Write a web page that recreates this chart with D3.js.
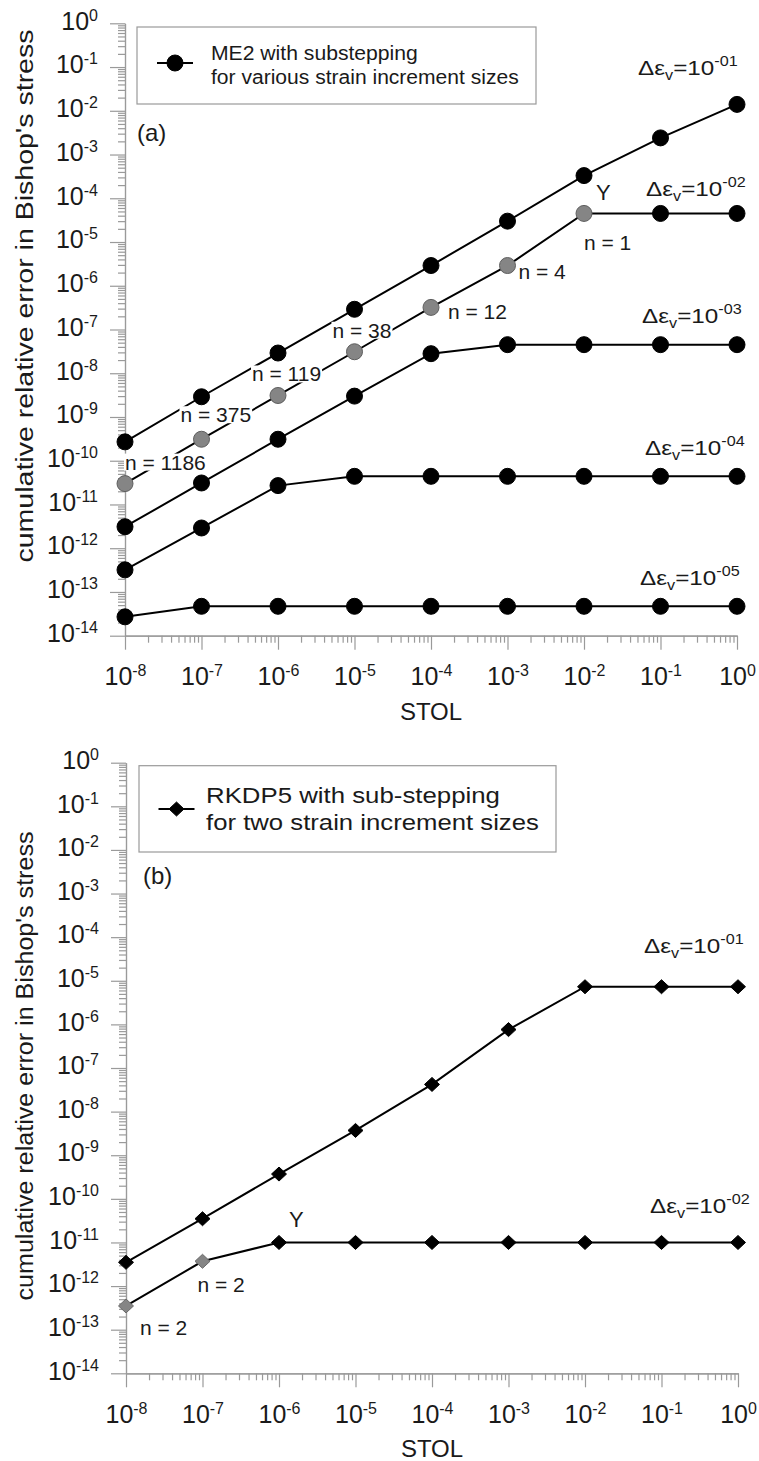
<!DOCTYPE html>
<html>
<head>
<meta charset="utf-8">
<script src="https://cdn.jsdelivr.net/npm/d3@7"></script>
<style>
  body { margin: 0; background: #fff; }
  svg { display: block; }
  text { font-family: "Liberation Sans", Arial, Helvetica, sans-serif; fill: #1a1a1a; }
</style>
</head>
<body>
<svg id="fig" width="759" height="1461"></svg>
<script>
// STOL values shared by every series (x axis)
const stol = [1e-8, 1e-7, 1e-6, 1e-5, 1e-4, 1e-3, 1e-2, 1e-1, 1];
const xTickExps = [-8, -7, -6, -5, -4, -3, -2, -1, 0];
const yTickExps = [0, -1, -2, -3, -4, -5, -6, -7, -8, -9, -10, -11, -12, -13, -14];

// (a) ME2 with substepping, one series per strain increment
const me2Increments = ["-01", "-02", "-03", "-04", "-05"];
const me2Err01 = [2.7e-10, 2.9e-9, 2.9e-8, 2.9e-7, 2.9e-6, 3.0e-5, 3.3e-4, 2.4e-3, 1.4e-2];
const me2Err02 = [3.0e-11, 3.1e-10, 3.1e-9, 3.1e-8, 3.2e-7, 2.9e-6, 4.5e-5, 4.5e-5, 4.5e-5];
const me2Err03 = [3.1e-12, 3.1e-11, 3.1e-10, 3.0e-9, 2.8e-8, 4.5e-8, 4.5e-8, 4.5e-8, 4.5e-8];
const me2Err04 = [3.2e-13, 2.9e-12, 2.7e-11, 4.4e-11, 4.4e-11, 4.4e-11, 4.4e-11, 4.4e-11, 4.4e-11];
const me2Err05 = [2.7e-14, 4.7e-14, 4.7e-14, 4.7e-14, 4.7e-14, 4.7e-14, 4.7e-14, 4.7e-14, 4.7e-14];
// number of substeps at the grey points of the 10^-02 series
const me2Substeps = [1186, 375, 119, 38, 12, 4, 1];

// (b) RKDP5 with sub-stepping
const rkIncrements = ["-01", "-02"];
const rkErr01 = [3.5e-12, 3.5e-11, 3.7e-10, 3.7e-9, 4.2e-8, 7.6e-7, 7.3e-6, 7.3e-6, 7.3e-6];
const rkErr02 = [3.5e-13, 3.7e-12, 1.0e-11, 1.0e-11, 1.0e-11, 1.0e-11, 1.0e-11, 1.0e-11, 1.0e-11];
const rkSubsteps = [2, 2, 1];

const svg = d3.select("#fig");
const AXIS = "#9a9a9a";
const GREY = "#858585";

function supLabel(sel, exp, baseSize, supSize, rise) {
  sel.text(null);
  sel.append("tspan").style("font-size", baseSize + "px").text("10");
  sel.append("tspan").style("font-size", supSize + "px").attr("dy", -rise).text(exp);
}

// stretch a text horizontally so that it spans a given width
function fitWidth(t, x, y, target) {
  const w = t.node().getBBox().width;
  t.attr("x", 0).attr("y", 0)
   .attr("transform", `translate(${x},${y}) scale(${target / w},1)`);
}

function minorTicks(lo, hi) {
  const v = [];
  for (let e = lo; e < hi; e++) for (let m = 2; m <= 9; m++) v.push(+(m + "e" + e));
  return v;
}

function drawPanel(p) {
  const g = svg.append("g");
  const x = d3.scaleLog().domain([1e-8, 1]).range([p.x0, p.x1]);
  const y = d3.scaleLog().domain([1e-14, 1]).range([p.yBot, p.yTop]);

  // axes
  const gx = g.append("g").attr("transform", `translate(0,${p.yBot})`);
  gx.append("g").call(d3.axisBottom(x).tickValues(minorTicks(-8, 0)).tickSize(7).tickSizeOuter(0).tickFormat(""));
  const gxM = gx.append("g").call(d3.axisBottom(x).tickValues(xTickExps.map(e => +("1e" + e)))
      .tickSize(14).tickPadding(24).tickSizeOuter(0));
  gxM.selectAll(".tick text").each(function (d) {
    supLabel(d3.select(this), String(Math.round(Math.log10(d))), 25, 16, 9);
  });

  const gy = g.append("g").attr("transform", `translate(${p.x0},0)`);
  gy.append("g").call(d3.axisLeft(y).tickValues(minorTicks(-14, 0)).tickSize(7).tickSizeOuter(0).tickFormat(""));
  const gyM = gy.append("g").call(d3.axisLeft(y).tickValues(yTickExps.map(e => +("1e" + e)))
      .tickSize(15).tickPadding(12).tickSizeOuter(0));
  gyM.selectAll(".tick text").attr("dy", "0.36em").each(function (d) {
    supLabel(d3.select(this), String(Math.round(Math.log10(d))), 25, 16, 9);
  });

  g.selectAll(".domain, .tick line").attr("stroke", AXIS).attr("stroke-width", 1.2);
  g.selectAll(".tick text").attr("fill", "#1a1a1a");
  g.selectAll("g").attr("font-family", null).attr("font-size", null);

  // axis titles
  g.append("text").attr("x", (p.x0 + p.x1) / 2).attr("y", p.yBot + 84)
    .attr("text-anchor", "middle").style("font-size", "24px").text("STOL");
  g.append("text").attr("text-anchor", "middle")
    .attr("transform", `translate(33,${p.titleY}) rotate(-90)`)
    .style("font-size", "23px")
    .attr("textLength", p.titleLen).attr("lengthAdjust", "spacingAndGlyphs")
    .text("cumulative relative error in Bishop's stress");

  // legend
  const L = p.legend;
  g.append("rect").attr("x", L.x).attr("y", L.y).attr("width", L.w).attr("height", L.h)
    .attr("fill", "#fff").attr("stroke", AXIS).attr("stroke-width", 1.2);
  g.append("line").attr("x1", L.mx - 18).attr("x2", L.mx + 18).attr("y1", L.my).attr("y2", L.my)
    .attr("stroke", "#000").attr("stroke-width", 2);
  drawMarker(g, p.marker, L.mx, L.my, "#000");
  L.lines.forEach((s, i) => {
    const t = g.append("text").style("font-size", L.size + "px").text(s);
    fitWidth(t, L.tx, L.ty[i], L.tw[i]);
  });
  g.append("text").attr("x", p.tag.x).attr("y", p.tag.y).style("font-size", "24px").text(p.tag.text);

  // series lines
  const line = d3.line().x((d, i) => x(stol[i])).y(d => y(d));
  p.series.forEach(s => {
    g.append("path").datum(s.values).attr("d", line)
      .attr("fill", "none").attr("stroke", "#000").attr("stroke-width", 2);
  });

  // substep counts (white boxes mask the lines behind them)
  const s2 = p.series[p.stepSeries].values;
  const notes = p.steps.map((n, i) => ({ text: "n = " + n, i, off: p.stepOff[i] }));
  notes.push({ text: "Y", i: p.yieldIdx, off: p.yieldOff, size: 22 });
  notes.forEach(nn => {
    const ng = g.append("g");
    const t = ng.append("text")
      .attr("x", x(stol[nn.i]) + nn.off[0]).attr("y", y(s2[nn.i]) + nn.off[1])
      .style("font-size", (nn.size || 21) + "px").text(nn.text);
    const b = t.node().getBBox();
    ng.insert("rect", "text").attr("x", b.x - 1).attr("y", b.y + 3)
      .attr("width", b.width + 2).attr("height", b.height - 6).attr("fill", "#fff");
  });

  // markers
  p.series.forEach((s, si) => {
    s.values.forEach((v, i) => {
      const grey = si === p.stepSeries && i < p.steps.length;
      drawMarker(g, p.marker, x(stol[i]), y(v), grey ? GREY : "#000");
    });
  });

  // strain increment tags
  p.series.forEach((s, si) => {
    const last = s.values[s.values.length - 1];
    const t = g.append("text").style("font-size", "21px");
    t.append("tspan").text("\u0394\u03b5");
    t.append("tspan").attr("dy", 5).style("font-size", "14px").text("v");
    t.append("tspan").attr("dy", -5).text("=10");
    t.append("tspan").attr("dy", -9).style("font-size", "14px").text(s.inc);
    const bw = t.node().getBBox().width;
    const xr = p.tagRight[si], yb = y(last) + p.tagLift[si];
    t.attr("x", 0).attr("y", 0)
      .attr("transform", `translate(${xr - 100},${yb}) scale(${100 / bw},1)`);
  });
}

function drawMarker(g, kind, cx, cy, fill) {
  if (kind === "circle") {
    g.append("circle").attr("cx", cx).attr("cy", cy).attr("r", 8)
      .attr("fill", fill).attr("stroke", fill === "#000" ? "#000" : "#5e5e5e").attr("stroke-width", 1);
  } else {
    const hw = 7.5, hh = 7;
    g.append("path")
      .attr("d", `M${cx},${cy - hh}L${cx + hw},${cy}L${cx},${cy + hh}L${cx - hw},${cy}Z`)
      .attr("fill", fill).attr("stroke", fill === "#000" ? "#000" : "#6a6a6a").attr("stroke-width", 1);
  }
}

drawPanel({
  x0: 125, x1: 737, yTop: 23.3, yBot: 635.7,
  titleY: 296, titleLen: 533,
  marker: "circle",
  legend: { x: 137, y: 27, w: 399, h: 77, mx: 175, my: 63, size: 21,
            tx: 211, ty: [60, 84], tw: [207, 308],
            lines: ["ME2 with substepping", "for various strain increment sizes"] },
  tag: { x: 137, y: 141, text: "(a)" },
  series: [me2Err01, me2Err02, me2Err03, me2Err04, me2Err05].map((v, i) => ({ values: v, inc: me2Increments[i] })),
  stepSeries: 1,
  steps: me2Substeps,
  stepOff: [[0, -14], [-21, -17], [-26, -14], [-22, -14], [17, 12], [11, 13], [0, 37]],
  yieldIdx: 6, yieldOff: [12, -13],
  tagRight: [738, 746, 742, 745, 740],
  tagLift: [-29, -17, -22, -21, -21]
});

drawPanel({
  x0: 126, x1: 738, yTop: 762.7, yBot: 1373.3,
  titleY: 1066, titleLen: 469,
  marker: "diamond",
  legend: { x: 139, y: 765.7, w: 417, h: 86.3, mx: 176.5, my: 809, size: 22,
            tx: 206, ty: [803, 830], tw: [294, 333],
            lines: ["RKDP5 with sub-stepping", "for two strain increment sizes"] },
  tag: { x: 143, y: 884, text: "(b)" },
  series: [rkErr01, rkErr02].map((v, i) => ({ values: v, inc: rkIncrements[i] })),
  stepSeries: 1,
  steps: rkSubsteps.slice(0, 2),
  stepOff: [[14, 29], [-5, 31]],
  yieldIdx: 2, yieldOff: [10, -15],
  tagRight: [744, 750],
  tagLift: [-34, -29]
});
</script>
</body>
</html>
